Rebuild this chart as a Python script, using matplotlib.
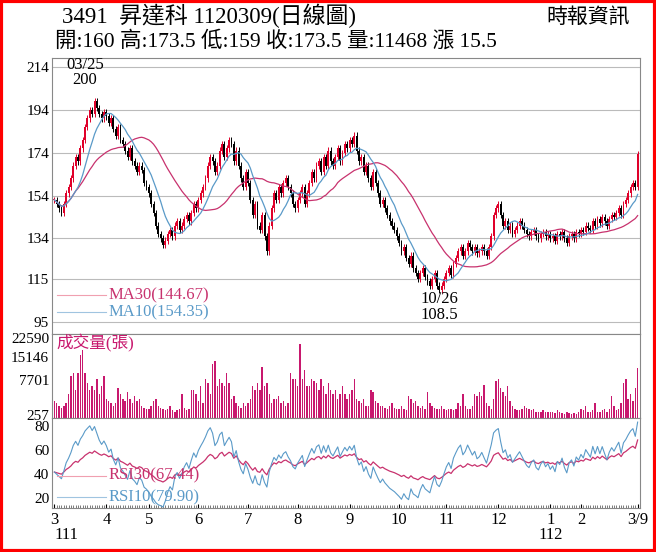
import numpy as np
import pandas as pd
import matplotlib
matplotlib.use("Agg")
import matplotlib.pyplot as plt
from matplotlib.patches import Rectangle

plt.rcParams['font.family'] = ['Liberation Serif', 'Noto Sans CJK TC']

# daily closes, month by month (Mar 2022 .. Mar 9 2023)
close_by_month = [
    [152, 150, 148, 146, 150, 155, 158, 162, 168, 172, 170, 176, 180, 186, 190, 194, 192, 198, 195, 192, 190, 193],
    [191, 188, 190, 185, 182, 186, 180, 178, 175, 172, 176, 170, 168, 165, 168, 166, 160, 158],
    [155, 150, 146, 140, 136, 134, 131, 133, 136, 138, 135, 140, 142, 138, 140, 143, 145, 142, 146, 150, 148],
    [152, 155, 158, 162, 168, 172, 170, 165, 168, 175, 178, 172, 176, 180, 178, 170, 175, 168, 162, 158, 165],
    [160, 152, 145, 150, 140, 138, 145, 135, 128, 140, 148, 155, 152, 158, 155, 160, 162, 158, 155, 150, 148],
    [152, 155, 158, 150, 155, 160, 165, 162, 168, 170, 165, 172, 168, 175, 170, 168, 172, 176, 170, 174, 178, 176],
    [180, 178, 182, 175, 170, 172, 165, 168, 162, 158, 165, 160, 155, 150, 152, 148, 145, 142, 140, 138, 135],
    [132, 128, 130, 125, 122, 126, 120, 118, 115, 118, 120, 116, 114, 112, 115, 118, 112, 110, 112, 115],
    [118, 120, 117, 122, 125, 128, 130, 126, 128, 132, 130, 128, 130, 127, 128, 130, 128, 126, 130, 135, 145, 148],
    [150, 145, 140, 142, 138, 140, 136, 138, 140, 142, 140, 138, 136, 135, 137, 138, 135, 134, 136, 137, 135, 136],
    [134, 135, 133, 136, 135, 137, 134, 132, 135, 136, 134, 137, 136],
    [138, 137, 140, 139, 138, 142, 140, 143, 141, 144, 142, 140, 143, 145, 144, 146, 148, 145],
    [150, 152, 155, 158, 160, 158, 173.5],
]
# volume (thousand lots), same layout
vol_by_month = [
    [2.5, 2.0, 1.5, 1.2, 1.5, 2.0, 4.0, 9.0, 10.0, 5.0, 10.0, 16.0, 18.0, 10.0, 7.0, 5.0, 6.0, 5.0, 8.0, 4.0, 6.0, 9.0],
    [3.0, 2.5, 2.0, 1.5, 2.0, 5.5, 4.0, 3.0, 2.5, 4.5, 3.0, 2.0, 3.5, 2.5, 3.0, 1.5, 1.2, 1.0],
    [1.0, 1.5, 2.5, 3.0, 1.5, 1.2, 1.0, 0.8, 1.0, 1.5, 0.8, 0.6, 0.8, 1.0, 4.0, 1.2, 0.8, 1.0, 5.0, 5.0, 4.0],
    [2.5, 6.0, 2.0, 8.0, 7.0, 4.0, 13.0, 14.0, 6.0, 8.0, 7.0, 6.0, 10.0, 7.0, 3.0, 3.5, 2.0, 1.5, 1.2, 2.0, 1.5],
    [2.0, 3.0, 6.0, 5.0, 7.0, 5.0, 12.0, 6.0, 7.0, 4.0, 2.0, 3.0, 3.0, 3.5, 2.0, 2.5, 1.5, 2.0, 10.0, 8.0, 8.0],
    [6.0, 20.0, 8.0, 11.0, 6.0, 6.0, 8.0, 7.5, 7.0, 5.0, 8.0, 6.0, 4.0, 7.0, 5.0, 4.0, 5.0, 3.0, 4.0, 6.0, 4.0, 3.0],
    [4.0, 5.0, 8.0, 3.0, 2.5, 2.0, 3.0, 1.5, 1.5, 5.0, 4.5, 2.5, 2.0, 1.5, 1.5, 1.2, 1.0, 1.5, 2.0, 1.2, 1.0],
    [1.0, 1.5, 1.0, 0.8, 3.5, 3.0, 2.0, 2.5, 1.5, 1.2, 1.5, 1.0, 4.5, 2.0, 1.5, 1.2, 1.0, 1.0, 1.5, 1.0],
    [0.8, 1.0, 1.0, 0.8, 1.0, 2.0, 1.5, 4.0, 1.5, 1.0, 1.0, 1.5, 4.0, 3.5, 4.5, 3.5, 6.5, 2.0, 1.5, 1.0, 3.0, 7.5],
    [8.0, 5.5, 4.5, 3.5, 6.0, 2.5, 1.5, 1.0, 0.8, 0.8, 1.0, 1.5, 1.2, 1.0, 0.8, 1.0, 0.6, 0.5, 0.5, 0.8, 0.5, 0.6],
    [0.5, 0.6, 0.4, 0.8, 0.5, 0.4, 0.3, 0.5, 0.4, 0.3, 0.4, 0.3, 0.5],
    [1.0, 0.8, 1.5, 0.5, 0.6, 0.8, 2.0, 0.5, 0.6, 0.8, 1.0, 0.5, 1.0, 3.5, 1.5, 0.8, 1.0, 2.0],
    [7.0, 8.0, 3.0, 4.0, 2.5, 5.5, 11.5],
]
month_labels = ['3', '4', '5', '6', '7', '8', '9', '10', '11', '12', '1', '2']
year_labels = ['111', '112']
vol_ticks = [257, 7701, 15146, 22590]
price_ticks = [95, 115, 134, 154, 174, 194, 214]
rsi_ticks = [20, 40, 60, 80]

close = np.array([c for m in close_by_month for c in m], dtype=float)
vol = np.array([v for m in vol_by_month for v in m]) * 1000
n = len(close)
x = np.arange(n)
opn = np.r_[close[0], close[:-1]]
month_start = np.cumsum([0] + [len(m) for m in close_by_month])[:-1]

s = pd.Series(close)
ma10 = s.rolling(10, min_periods=1).mean()
ma30 = s.rolling(30, min_periods=1).mean()


def rsi(series, k, seed=2.0):
    d = series.diff()
    up = d.clip(lower=0)
    dn = (-d.clip(upper=0))
    up.iloc[0] = seed
    dn.iloc[0] = seed * 1.4  # history before the window was slightly weak
    up = up.ewm(alpha=1 / k, adjust=False).mean()
    dn = dn.ewm(alpha=1 / k, adjust=False).mean()
    return 100 * up / (up + dn)


rsi10 = rsi(s, 10)
rsi30 = rsi(s, 30)

RED = '#e0002a'
MA30C = '#c8326e'
MA10C = '#5a9ac8'
VOLC = '#c8186e'

W, H = 656, 552
fig = plt.figure(figsize=(W / 100, H / 100), dpi=100)


def ax_px(l, t, r, b):
    return fig.add_axes([l / W, 1 - b / H, (r - l) / W, (b - t) / H])


axp = ax_px(52, 58, 640, 334)
axv = ax_px(52, 334, 640, 418)
axr = ax_px(52, 418, 640, 508)

for ax in (axp, axv, axr):
    ax.set_xlim(-1, n)
    ax.tick_params(axis='y', length=0, labelsize=11, pad=2)
    for sp in ax.spines.values():
        sp.set_color('#888888')
        sp.set_linewidth(0.8)

# price panel
axp.set_ylim(89.4, 218.2)
axp.set_yticks(price_ticks)
axp.grid(axis='y', color='#bbbbbb', lw=0.8)
axp.set_axisbelow(True)
axp.set_xticks([])
for i in range(n):
    up = close[i] >= opn[i]
    c = RED if up else 'black'
    lo, hi = sorted((opn[i], close[i]))
    axp.vlines(x[i], lo - 1.5, hi + 1.5, color=c, lw=0.7)
    axp.add_patch(Rectangle((x[i] - 0.4, lo), 0.8, max(hi - lo, 0.3), color=c, lw=0))
axp.plot(x, ma30, color=MA30C, lw=0.9)
axp.plot(x, ma10, color=MA10C, lw=0.9)
axp.plot([1, 22], [107.5, 107.5], color='#f0a0b0', lw=0.8)
axp.plot([1, 22], [99.5, 99.5], color='#a0c4e0', lw=0.8)
axp.text(23, 107.5, 'MA30(144.67)', color=MA30C, fontsize=12, va='center')
axp.text(23, 99.5, 'MA10(154.35)', color=MA10C, fontsize=12, va='center')
axp.text(13, 211.5, '03/25\n200', fontsize=12, ha='center', va='center', linespacing=0.95)
axp.text(163, 102, '10/26\n108.5', fontsize=12, ha='center', va='center', linespacing=0.95)

# volume panel (compressed scale like the source)
axv.set_yscale('function', functions=(lambda v: np.sign(v) * np.abs(v) ** 0.7,
                                      lambda v: np.sign(v) * np.abs(v) ** (1 / 0.7)))
axv.set_ylim(0, 24200)
axv.set_yticks(vol_ticks)
axv.set_yticklabels([str(t) for t in vol_ticks])
axv.minorticks_off()
axv.set_xticks([])
axv.bar(x, vol, width=0.6, color=VOLC)
axv.text(1, 20500, '成交量(張)', color=VOLC, fontsize=12, va='center')

# RSI panel
axr.set_ylim(11.7, 86.7)
axr.set_yticks(rsi_ticks)
axr.plot(x, rsi30, color=MA30C, lw=0.9)
axr.plot(x, rsi10, color=MA10C, lw=0.8)
axr.plot([1, 22], [38.5, 38.5], color='#f0a0b0', lw=0.8)
axr.plot([1, 22], [20.5, 20.5], color='#a0c4e0', lw=0.8)
axr.text(23, 38.5, 'RSI30(67.44)', color=MA30C, fontsize=12, va='center')
axr.text(23, 20.5, 'RSI10(79.90)', color=MA10C, fontsize=12, va='center')
axr.set_xticks(x, minor=True)
axr.set_xticks(list(month_start[:12]) + [n - 1])
axr.set_xticklabels(month_labels + ['3/9'], fontsize=12)
axr.tick_params(axis='x', which='minor', length=2, direction='in', color='#666666')
axr.tick_params(axis='x', which='major', length=3, direction='in', pad=3)
axr.text(month_start[0], -11, year_labels[0], fontsize=12, ha='left', va='center')
axr.text(month_start[10], -11, year_labels[1], fontsize=12, ha='center', va='center')

fig.text(62 / W, 1 - 16 / H, '3491  昇達科 1120309(日線圖)', fontsize=16.5, va='center')
fig.text(55 / W, 1 - 41 / H, '開:160 高:173.5 低:159 收:173.5 量:11468 漲 15.5', fontsize=15.5, va='center')
fig.text(630 / W, 1 - 18 / H, '時報資訊', fontsize=15, ha='right', va='center')

fig.add_artist(Rectangle((0.002, 0.002), 0.996, 0.996, transform=fig.transFigure,
                         fill=False, edgecolor='red', lw=3))
fig.savefig('out.png', dpi=100)
